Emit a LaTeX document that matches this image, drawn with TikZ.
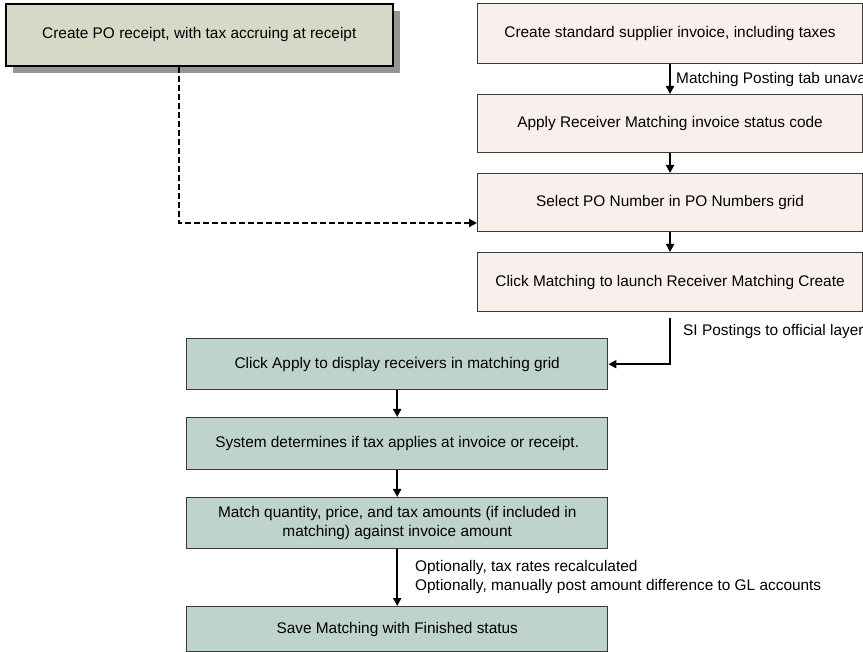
\documentclass[tikz,border=0pt]{standalone}
\usepackage{fontspec}
\setmainfont{Liberation Sans}
\usetikzlibrary{arrows.meta,calc}

\definecolor{recfill}{HTML}{D7D9C8}
\definecolor{shadowgray}{HTML}{959595}
\definecolor{invfill}{HTML}{F9F0EE}
\definecolor{matchfill}{HTML}{BED3CD}
\definecolor{edgegray}{HTML}{3A3A3A}

\tikzset{
  px/.style={x=1pt,y=-1pt},
  boxbase/.style={anchor=north west, rectangle, inner sep=0pt, align=center,
    font=\fontsize{15.4}{18.5}\selectfont},
  receiptbox/.style={boxbase, fill=recfill, draw=black, line width=1.6pt},
  invoicebox/.style={boxbase, fill=invfill, draw=edgegray, line width=1.1pt},
  matchbox/.style={boxbase, fill=matchfill, draw=edgegray, line width=1.4pt},
  flow/.style={draw=black, line width=1.9pt, -{Triangle[length=8pt,width=8pt]}},
  dashflow/.style={flow, dash pattern=on 6pt off 3pt},
  note/.style={anchor=west, inner sep=0pt, font=\fontsize{15.4}{18.5}\selectfont, align=left},
}

\begin{document}
\begin{tikzpicture}[px]
  \useasboundingbox (0,0) rectangle (863,652);

  % receipt step with its drop shadow
  \fill[shadowgray] (13,11) rectangle (400,73);
  \node[receiptbox, minimum width=387pt, minimum height=62pt] (po) at (5,3)
    {Create PO receipt, with tax accruing at receipt};

  % invoice steps
  \node[invoicebox, minimum width=385pt, minimum height=60pt] (inv) at (477,3)
    {Create standard supplier invoice, including taxes};
  \node[invoicebox, minimum width=385pt, minimum height=58pt] (apply) at (477,94)
    {Apply Receiver Matching invoice status code};
  \node[invoicebox, minimum width=385pt, minimum height=58pt] (sel) at (477,173)
    {Select PO Number in PO Numbers grid};
  \node[invoicebox, minimum width=385pt, minimum height=59pt] (click) at (477,252)
    {Click Matching to launch Receiver Matching Create};

  % matching steps
  \node[matchbox, minimum width=421pt, minimum height=51pt] (disp) at (186,338)
    {Click Apply to display receivers in matching grid};
  \node[matchbox, minimum width=421pt, minimum height=52pt] (tax) at (186,417)
    {System determines if tax applies at invoice or receipt.};
  \node[matchbox, minimum width=421pt, minimum height=51pt] (qty) at (186,497)
    {Match quantity, price, and tax amounts (if included in\\matching) against invoice amount};
  \node[matchbox, minimum width=421pt, minimum height=45pt] (save) at (186,606)
    {Save Matching with Finished status};

  % connectors
  \draw[flow] (inv) -- (apply);
  \draw[flow] (apply) -- (sel);
  \draw[flow] (sel) -- (click);
  \draw[flow, shorten <=6pt] (click) |- (disp.east);
  \draw[flow] (disp) -- (tax);
  \draw[flow] (tax) -- (qty);
  \draw[flow] (qty) -- (save);

  \coordinate (dashturn) at (179,223);
  \draw[dashflow] (po.south -| dashturn) -- (dashturn) -- (sel.west |- dashturn);

  % connector notes
  \node[note] (n1) at (676,80) {Matching Posting tab unavailable};
  \node[note] (n2) at (683,332) {SI Postings to official layer};
  \node[note] (n3) at (415,568) {Optionally, tax rates recalculated};
  \node[note] (n4) at (415,587) {Optionally, manually post amount difference to GL accounts};
\end{tikzpicture}
\end{document}
